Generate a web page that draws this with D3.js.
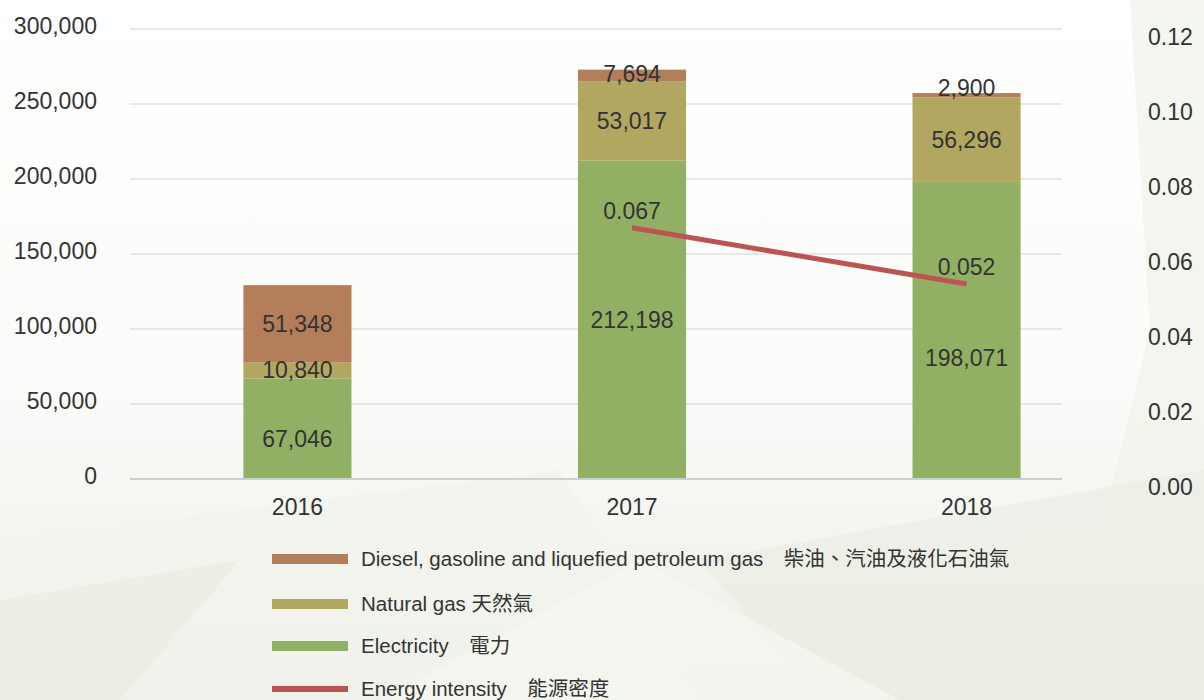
<!DOCTYPE html>
<html>
<head>
<meta charset="utf-8">
<script src="https://cdn.jsdelivr.net/npm/d3@7"></script>
<style>
  body { margin: 0; background: #fff; }
  svg { display: block; }
  text { font-family: "Liberation Sans", "Noto Sans CJK TC", sans-serif; fill: #333; }
</style>
</head>
<body>
<script>
// data
var years = ['2016', '2017', '2018'];
var electricity = [67046, 212198, 198071];
var naturalGas = [10840, 53017, 56296];
var diesel = [51348, 7694, 2900];
var intensity = [null, 0.067, 0.052];
var leftTicks = [0, 50000, 100000, 150000, 200000, 250000, 300000];
var rightTicks = [0, 0.02, 0.04, 0.06, 0.08, 0.10, 0.12];
var legendLabels = [
  'Diesel, gasoline and liquefied petroleum gas\u3000柴油、汽油及液化石油氣',
  'Natural gas 天然氣',
  'Electricity\u3000電力',
  'Energy intensity\u3000能源密度'
];

var colors = { diesel: '#b57e5a', gas: '#b1a760', elec: '#92b064', line: '#bd5454' };

var w = 1204, h = 700;
var svg = d3.select('body').append('svg')
  .attr('width', w)
  .attr('height', h);

// faint background shapes
var defs = svg.append('defs');
var grad = defs.append('linearGradient').attr('id', 'bg')
  .attr('x1', 0).attr('y1', 0).attr('x2', 0).attr('y2', 1);
grad.append('stop').attr('offset', '0%').attr('stop-color', '#ffffff');
grad.append('stop').attr('offset', '55%').attr('stop-color', '#fbfbf9');
grad.append('stop').attr('offset', '100%').attr('stop-color', '#eceee6');
svg.append('rect').attr('width', w).attr('height', h).attr('fill', 'url(#bg)');

var shapes = [
  [[0, 540], [560, 470], [700, 700], [0, 700]],
  [[1130, 0], [1204, 0], [1204, 700], [1060, 700], [1150, 330]],
  [[700, 560], [1204, 470], [1204, 700], [820, 700]],
  [[0, 600], [240, 560], [120, 700], [0, 700]],
  [[380, 700], [640, 560], [900, 700]]
];
var shapeFill = ['#f1f3ec', '#f0f2ea', '#eaeee4', '#e9ece3', '#f5f6f1'];
svg.selectAll('path.bgshape')
  .data(shapes)
  .enter()
  .append('path')
  .attr('class', 'bgshape')
  .attr('d', function (d) { return 'M' + d.join('L') + 'Z'; })
  .attr('fill', function (d, i) { return shapeFill[i]; })
  .attr('opacity', 0.7);

// scales
var x = d3.scaleBand().domain(years).range([130, 1134]).paddingInner(0.677).paddingOuter(0.339);
var y = d3.scaleLinear().domain([0, 300000]).range([479, 29]);
var y2 = d3.scaleLinear().domain([0, 0.12]).range([479, 29]);

// gridlines
svg.selectAll('line.grid')
  .data(leftTicks.slice(1))
  .enter()
  .append('line')
  .attr('class', 'grid')
  .attr('x1', 130).attr('x2', 1062)
  .attr('y1', function (d) { return y(d); })
  .attr('y2', function (d) { return y(d); })
  .attr('stroke', '#d3d3d3')
  .attr('stroke-width', 1);

// left axis
var leftAxis = svg.append('g')
  .attr('transform', 'translate(130,0)')
  .call(d3.axisLeft(y).tickValues(leftTicks).tickFormat(d3.format(',')).tickSize(0).tickPadding(33));
leftAxis.select('.domain').remove();
leftAxis.selectAll('text').style('font-size', '23px').attr('fill', '#333').attr('dy', '0.18em');

// right axis
var rightAxis = svg.append('g')
  .attr('transform', 'translate(1148,0)')
  .call(d3.axisRight(y2).tickValues(rightTicks).tickFormat(d3.format('.2f')).tickSize(0).tickPadding(0));
rightAxis.select('.domain').remove();
rightAxis.selectAll('text').style('font-size', '23px').attr('fill', '#333').attr('dy', '0.68em');

// stacked bars
var series = [
  { key: 'elec', values: electricity },
  { key: 'gas', values: naturalGas },
  { key: 'diesel', values: diesel }
];
var segs = [];
years.forEach(function (yr, i) {
  var base = 0;
  series.forEach(function (s) {
    segs.push({ year: yr, key: s.key, v: s.values[i], y0: base, y1: base + s.values[i] });
    base += s.values[i];
  });
});

svg.selectAll('rect.bar')
  .data(segs)
  .enter()
  .append('rect')
  .attr('class', 'bar')
  .attr('x', function (d) { return x(d.year); })
  .attr('width', x.bandwidth())
  .attr('y', function (d) { return y(d.y1); })
  .attr('height', function (d) { return y(d.y0) - y(d.y1); })
  .attr('fill', function (d) { return colors[d.key]; });

// baseline
svg.append('line')
  .attr('x1', 130).attr('x2', 1062)
  .attr('y1', y(0)).attr('y2', y(0))
  .attr('stroke', '#cfcfcf').attr('stroke-width', 2);

// value labels (small nudges where the original moved them)
var nudge = { '2016elec': 10, '2018elec': 28, '2018diesel': -7, '2017diesel': -1 };
svg.selectAll('text.val')
  .data(segs)
  .enter()
  .append('text')
  .attr('class', 'val')
  .attr('x', function (d) { return x(d.year) + x.bandwidth() / 2; })
  .attr('y', function (d) { return (y(d.y0) + y(d.y1)) / 2 + (nudge[d.year + d.key] || 0); })
  .attr('text-anchor', 'middle')
  .attr('dy', '0.35em')
  .style('font-size', '23px')
  .text(function (d) { return d3.format(',')(d.v); });

// energy intensity line
var pts = years.map(function (yr, i) { return { year: yr, v: intensity[i] }; })
  .filter(function (d) { return d.v !== null; });
var line = d3.line()
  .x(function (d) { return x(d.year) + x.bandwidth() / 2; })
  .y(function (d) { return y2(d.v); });
svg.append('path')
  .datum(pts)
  .attr('d', line)
  .attr('fill', 'none')
  .attr('stroke', colors.line)
  .attr('stroke-width', 5);

svg.selectAll('text.int')
  .data(pts)
  .enter()
  .append('text')
  .attr('class', 'int')
  .attr('x', function (d) { return x(d.year) + x.bandwidth() / 2; })
  .attr('y', function (d) { return y2(d.v) - 17; })
  .attr('text-anchor', 'middle')
  .attr('dy', '0.35em')
  .style('font-size', '23px')
  .text(function (d) { return d3.format('.3f')(d.v); });

// x labels
svg.selectAll('text.xlab')
  .data(years)
  .enter()
  .append('text')
  .attr('class', 'xlab')
  .attr('x', function (d) { return x(d) + x.bandwidth() / 2; })
  .attr('y', 507)
  .attr('text-anchor', 'middle')
  .attr('dy', '0.35em')
  .style('font-size', '23px')
  .text(function (d) { return d; });

// legend
var legendKeys = ['diesel', 'gas', 'elec', 'line'];
var legendY = [559, 604, 646, 689];
var lg = svg.selectAll('g.legend')
  .data(legendKeys)
  .enter()
  .append('g')
  .attr('class', 'legend')
  .attr('transform', function (d, i) { return 'translate(272,' + legendY[i] + ')'; });
lg.append('rect')
  .attr('x', 0)
  .attr('width', 76)
  .attr('y', function (d) { return d === 'line' ? -3 : -5; })
  .attr('height', function (d) { return d === 'line' ? 6 : 10; })
  .attr('fill', function (d) { return colors[d]; });
lg.append('text')
  .attr('x', 89)
  .attr('dy', '0.35em')
  .style('font-size', '20.5px')
  .text(function (d, i) { return legendLabels[i]; });
</script>
</body>
</html>
